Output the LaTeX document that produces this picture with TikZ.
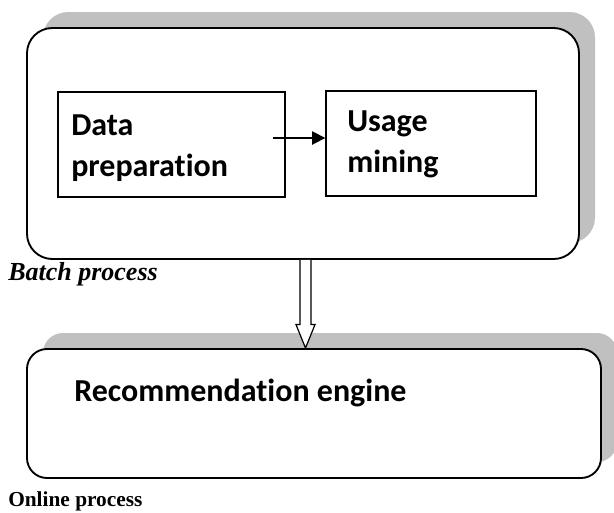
\documentclass[tikz,border=0pt]{standalone}
\usepackage{fontspec}
\setmainfont{Liberation Serif}
\newfontfamily\boxfont[Ligatures=NoCommon]{Carlito}
\usetikzlibrary{fit,calc,shadows,arrows.meta}
\definecolor{shadowgray}{RGB}{192,192,192}

\begin{document}
\begin{tikzpicture}[
    x=0.75pt, y=-0.75pt,
    panel/.style={draw, line width=1.4pt, fill=white, inner sep=0pt,
        drop shadow={shadow xshift=12pt, shadow yshift=12pt, opacity=1, fill=shadowgray}},
    stage/.style={draw, line width=1pt, fill=white, inner sep=0pt},
    boxtext/.style={anchor=west, align=left, inner sep=0pt,
        font=\boxfont\fontsize{24}{31}\selectfont\bfseries},
    caption/.style={anchor=base west, inner sep=0pt, font=\fontsize{16}{20}\selectfont\bfseries},
    arrow/.style={-{Triangle[length=10pt,width=10pt]}, line width=1.2pt},
    hollow/.style={draw, line width=0.9pt, fill=white, line join=miter}
]
    \useasboundingbox (0,0) rectangle (614,512);

    % Batch process
    \node[panel, rounded corners=19pt, fit={(27,28) (579,259)}] (batch) {};
    \node[caption, font=\fontsize{19.5}{23}\selectfont\bfseries\itshape] (batchlbl) at (8,280) {Batch process};

    % Stages inside batch process
    \node[stage, fit={(58,92) (285,197)}] (prep) {};
    \node[stage, fit={(326,91) (536,196)}] (mining) {};
    \node[boxtext] (preptext) at (71,148) {Data\\preparation};
    \node[boxtext] (miningtext) at (347,144) {Usage\\mining};

    \coordinate (arrstart) at (273,138);
    \draw[arrow] (arrstart) -- (mining.west |- arrstart);

    % Online process
    \node[panel, rounded corners=15pt, fit={(27,349) (601,478)}] (engine) {};
    \node[boxtext] (enginetext) at (74,393) {Recommendation engine};
    \node[caption] (onlinelbl) at (8,506) {Online process};

    % Hollow arrow between the two processes
    \coordinate (htop) at ($(batch.south)+(2.5,0)$);
    \coordinate (htip) at (htop |- engine.north);
    \draw[hollow] ($(htop)+(-5.5,0)$) -- ($(htip)+(-5.5,-23.5)$) -- ($(htip)+(-9.5,-23.5)$)
        -- (htip) -- ($(htip)+(9.5,-23.5)$) -- ($(htip)+(5.5,-23.5)$) -- ($(htop)+(5.5,0)$);

\end{tikzpicture}
\end{document}
